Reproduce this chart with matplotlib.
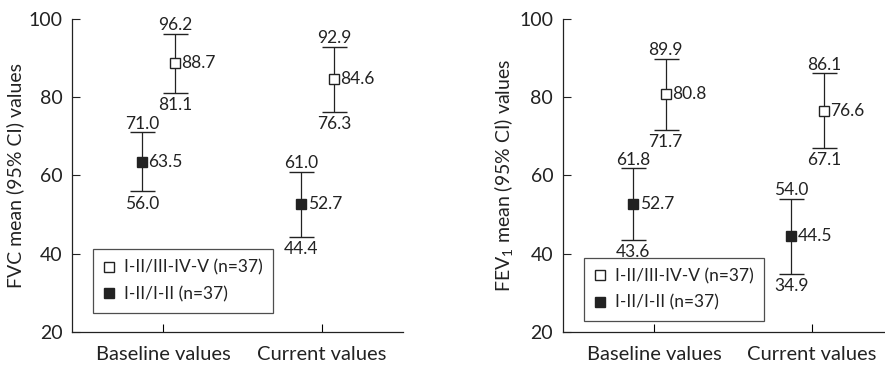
import matplotlib
matplotlib.use("Agg")
import matplotlib.pyplot as plt
from matplotlib.lines import Line2D

plt.rcParams['font.family'] = ['Lato', 'DejaVu Sans']
plt.rcParams['mathtext.default'] = 'regular'

groups = ["Baseline values", "Current values"]
legend_labels = ["I-II/III-IV-V (n=37)", "I-II/I-II (n=37)"]

# FVC panel
fvc_open_mean = [88.7, 84.6]
fvc_open_lo = [81.1, 76.3]
fvc_open_hi = [96.2, 92.9]
fvc_fill_mean = [63.5, 52.7]
fvc_fill_lo = [56.0, 44.4]
fvc_fill_hi = [71.0, 61.0]

# FEV1 panel
fev_open_mean = [80.8, 76.6]
fev_open_lo = [71.7, 67.1]
fev_open_hi = [89.9, 86.1]
fev_fill_mean = [52.7, 44.5]
fev_fill_lo = [43.6, 34.9]
fev_fill_hi = [61.8, 54.0]

ink = "#222222"


def draw_series(ax, xs, mean, lo, hi, face):
    yerr = [[m - l for m, l in zip(mean, lo)], [h - m for m, h in zip(mean, hi)]]
    ax.errorbar(xs, mean, yerr=yerr, fmt='s', ms=7, mfc=face, mec=ink, mew=1.0,
                ecolor=ink, elinewidth=0.9, capsize=9, capthick=0.9, zorder=3)
    for x, m, l, h in zip(xs, mean, lo, hi):
        ax.annotate(f"{h:.1f}", (x, h), xytext=(0, 2.5), textcoords='offset points',
                    ha='center', va='baseline', fontsize=12.5, color=ink)
        ax.annotate(f"{l:.1f}", (x, l), xytext=(0, -12.5), textcoords='offset points',
                    ha='center', va='baseline', fontsize=12.5, color=ink)
        ax.annotate(f"{m:.1f}", (x, m), xytext=(4.5, 0), textcoords='offset points',
                    ha='left', va='center', fontsize=12.5, color=ink)


def panel(ax, om, ol, oh, fm, fl, fh, ylabel, xlim, legend_pos):
    x = [1, 2]
    draw_series(ax, [v - 0.13 for v in x], fm, fl, fh, ink)
    draw_series(ax, [v + 0.075 for v in x], om, ol, oh, 'white')
    ax.set_ylim(20, 100)
    ax.set_xlim(*xlim)
    ax.set_yticks([20, 40, 60, 80, 100])
    ax.set_xticks(x)
    ax.set_xticklabels(groups, fontsize=14.5, color=ink)
    ax.tick_params(axis='y', direction='in', length=5.5, labelsize=14, colors=ink, pad=7)
    ax.tick_params(axis='x', direction='in', length=5.5, pad=10)
    for s in ['top', 'right']:
        ax.spines[s].set_visible(False)
    for s in ['left', 'bottom']:
        ax.spines[s].set_color(ink)
        ax.spines[s].set_linewidth(0.9)
    ax.set_ylabel(ylabel, fontsize=14, color=ink, labelpad=3)
    handles = [
        Line2D([], [], ls='none', marker='s', ms=6.5, mfc='white', mec=ink, mew=1.0),
        Line2D([], [], ls='none', marker='s', ms=6.5, mfc=ink, mec=ink, mew=1.0),
    ]
    leg = ax.legend(handles, legend_labels, loc='lower left', bbox_to_anchor=legend_pos,
                    fontsize=12.5, frameon=True, fancybox=False, edgecolor=ink,
                    handlelength=0.7, handletextpad=0.5, borderpad=0.6, labelspacing=0.6,
                    borderaxespad=0)
    leg.get_frame().set_linewidth(0.9)
    for t in leg.get_texts():
        t.set_color(ink)


fig = plt.figure(figsize=(8.85, 3.66), dpi=100)
ax1 = fig.add_axes([0.0814, 0.093, 0.374, 0.855])
ax2 = fig.add_axes([0.636, 0.093, 0.364, 0.855])

panel(ax1, fvc_open_mean, fvc_open_lo, fvc_open_hi, fvc_fill_mean, fvc_fill_lo, fvc_fill_hi,
      "FVC mean (95% CI) values", (0.428, 2.509), (0.063, 0.061))
panel(ax2, fev_open_mean, fev_open_lo, fev_open_hi, fev_fill_mean, fev_fill_lo, fev_fill_hi,
      "FEV$_1$ mean (95% CI) values", (0.424, 2.462), (0.065, 0.035))

fig.savefig("out.png", dpi=100)
